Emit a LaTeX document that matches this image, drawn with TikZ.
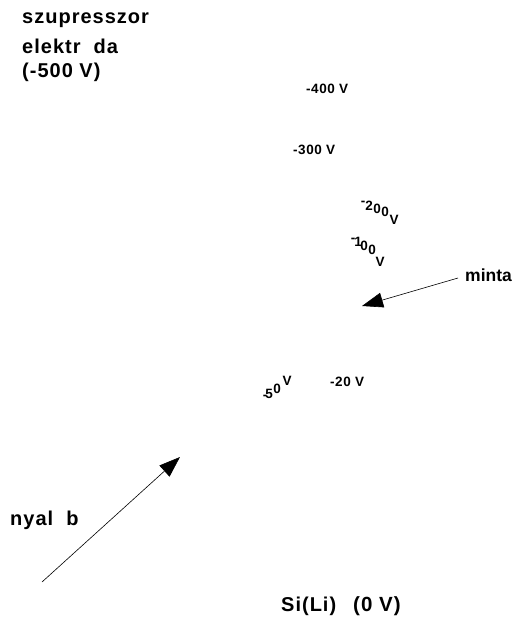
\documentclass[tikz,border=0pt]{standalone}
\usepackage{fontspec}
\setmainfont{Liberation Sans}
\newfontface\biglbl[LetterSpace=5]{Liberation Sans Bold}
\newfontface\plainlbl{Liberation Sans Bold}
\newfontface\smalllbl[LetterSpace=4]{Liberation Sans Bold}
\usetikzlibrary{arrows.meta}
\begin{document}
\begin{tikzpicture}[x=1pt,y=-1pt,
  big/.style={inner sep=0pt,anchor=west,font=\fontsize{20}{22}\biglbl},
  small/.style={inner sep=0pt,anchor=west,font=\fontsize{13.5}{15}\smalllbl},
  ch/.style={inner sep=0pt,font=\fontsize{13.5}{15}\plainlbl},
  pointer/.style={line width=0.6pt,-{Triangle[length=21pt,width=15pt]}}]
\useasboundingbox (0,0) rectangle (523,628);

% electrode and detector labels
\node[big] (s1) at (22,20) {szupresszor};
\node[big] (s2) at (22,46) {elektr\ \ da};
\node[big] (s3) at (22,72) {(-500 V)};
\node[big] (det) at (281,606) {Si(Li)};
\node[big,font=\fontsize{20.5}{22}\biglbl] (detv) at (353,606) {(0 V)};
\node[big,font=\fontsize{17.5}{20}\plainlbl] (minta) at (465,275) {minta};
\node[big] (nyal) at (10,520) {nyal\ \ b};

% equipotential labels
\node[small] (v400) at (306,89) {-400 V};
\node[small] (v300) at (293,150) {-300 V};
\node[small] (v20) at (330,382) {-20 V};

% -200 V, letters along a slope
\node[ch] (a1) at (363,203) {-};
\node[ch] (a2) at (369,206) {2};
\node[ch] (a3) at (377,209) {0};
\node[ch] (a4) at (385,212) {0};
\node[ch] (a5) at (394,220) {V};

% -100 V
\node[ch] (b1) at (353,240) {-};
\node[ch] (b2) at (358,242) {1};
\node[ch] (b3) at (364,246) {0};
\node[ch] (b4) at (372,250) {0};
\node[ch] (b5) at (380,262) {V};

% -50 V, rising
\node[ch] (c1) at (265,397) {-};
\node[ch] (c2) at (269,394) {5};
\node[ch] (c3) at (277,389) {0};
\node[ch] (c4) at (287,381) {V};

% sample and beam arrows
\coordinate (mstart) at (458,278);
\coordinate (mtip) at (362,306);
\draw[pointer] (mstart) -- (mtip);
\coordinate (bstart) at (42,582);
\coordinate (btip) at (180,457);
\draw[pointer] (bstart) -- (btip);
\end{tikzpicture}
\end{document}
